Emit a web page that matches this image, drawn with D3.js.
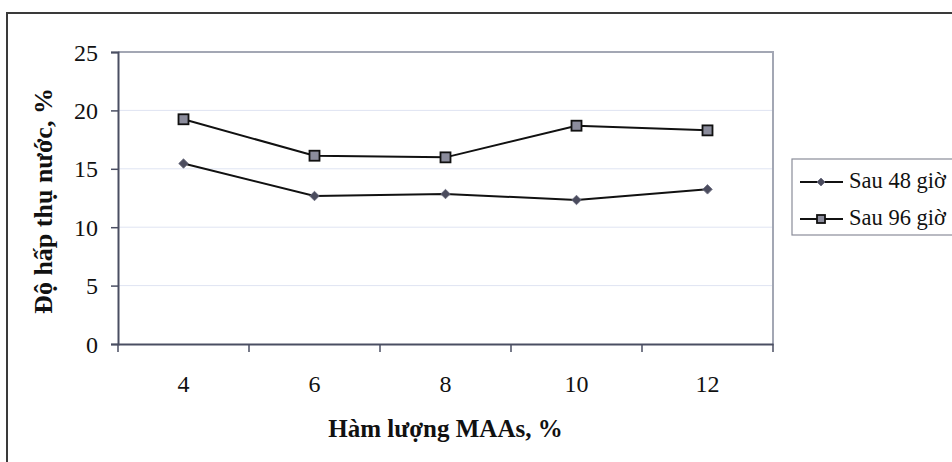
<!DOCTYPE html>
<html><head><meta charset="utf-8">
<script src="https://cdn.jsdelivr.net/npm/d3@7"></script>
<style>html,body{margin:0;padding:0;background:#fff;}svg{display:block;}</style>
</head><body>
<svg id="c" width="952" height="462"></svg>
<script>
const categories = ["4", "6", "8", "10", "12"];
const series48 = [15.45, 12.67, 12.84, 12.33, 13.24];
const series96 = [19.24, 16.12, 15.98, 18.69, 18.29];
const seriesNames = ["Sau 48 giờ", "Sau 96 giờ"];
const yTicks = [0, 5, 10, 15, 20, 25];
const xTitle = "Hàm lượng MAAs, %";
const yTitle = "Độ hấp thụ nước, %";

const FONT = '"Liberation Serif", "Times New Roman", Tinos, serif';
const svg = d3.select("#c");
const L = 118, R = 773, T = 52, B = 344;

// outer chart border
svg.append("rect").attr("x", 7).attr("y", 13).attr("width", 960).attr("height", 470)
  .attr("fill", "#fff").attr("stroke", "#3a3a3a").attr("stroke-width", 2);

const x = d3.scaleBand().domain(categories).range([L, R]).paddingInner(0).paddingOuter(0);
const y = d3.scaleLinear().domain([0, 25]).range([B, T]);

// gridlines
svg.append("g").selectAll("line").data(yTicks.filter(d => d > 0 && d < 25)).join("line")
  .attr("x1", L).attr("x2", R).attr("y1", d => y(d)).attr("y2", d => y(d))
  .attr("stroke", "#dfe4f2").attr("stroke-width", 1);

// plot frame top/right
svg.append("path").attr("d", `M${L},${T}H${R}V${B}`).attr("fill", "none")
  .attr("stroke", "#a3a7b4").attr("stroke-width", 2);

// y axis
const yAxis = svg.append("g").attr("transform", `translate(${L},0)`)
  .call(d3.axisLeft(y).tickValues(yTicks).tickSize(7).tickPadding(13).tickFormat(d3.format("d")));
yAxis.select(".domain").attr("stroke", "#4a4e62").attr("stroke-width", 2);
yAxis.selectAll(".tick line").attr("stroke", "#4a4e62").attr("stroke-width", 1.5);
yAxis.selectAll("text").style("font-family", FONT).attr("font-size", 24).attr("fill", "#111")
  .attr("dy", "0.34em");

// x axis with ticks at band boundaries
const xAxis = svg.append("g").attr("transform", `translate(0,${B})`)
  .call(d3.axisBottom(x).tickSize(0));
xAxis.select(".domain").attr("stroke", "#4a4e62").attr("stroke-width", 2);
xAxis.selectAll("text").style("font-family", FONT).attr("font-size", 24).attr("fill", "#111")
  .attr("y", 48).attr("dy", 0);
const bounds = categories.map(c => x(c)).concat([x(categories[categories.length-1]) + x.bandwidth()]);
xAxis.selectAll("line.b").data(bounds).join("line").attr("class", "b")
  .attr("x1", d => d).attr("x2", d => d).attr("y1", 0).attr("y2", 8)
  .attr("stroke", "#4a4e62").attr("stroke-width", 1.5);

const cx = c => x(c) + x.bandwidth() / 2;
const line = d3.line().x((d, i) => cx(categories[i])).y(d => y(d));

// lines
[series48, series96].forEach(s => {
  svg.append("path").datum(s).attr("d", line).attr("fill", "none")
    .attr("stroke", "#111").attr("stroke-width", 2);
});

function drawDiamond(g, px, py, sz) {
  g.append("path").attr("d", d3.symbol().type(d3.symbolSquare).size(sz)())
    .attr("transform", `translate(${px},${py}) rotate(45)`)
    .attr("fill", "#4b4c5e").attr("stroke", "#6b6d80").attr("stroke-width", 0.8);
}
function drawSquare(g, px, py, s) {
  g.append("rect").attr("x", px - s / 2).attr("y", py - s / 2).attr("width", s).attr("height", s)
    .attr("fill", "#8b8c9c").attr("stroke", "#111").attr("stroke-width", 1.8);
}
const mk = svg.append("g");
series48.forEach((v, i) => drawDiamond(mk, cx(categories[i]), y(v), 45));
series96.forEach((v, i) => drawSquare(mk, cx(categories[i]), y(v), 10));

// axis titles
svg.append("text").attr("x", (L + R) / 2).attr("y", 437).attr("text-anchor", "middle")
  .style("font-family", FONT).attr("font-size", 25).attr("font-weight", "bold").attr("fill", "#111")
  .text(xTitle);
svg.append("text").attr("transform", `translate(52,${(T + B) / 2 + 3}) rotate(-90)`)
  .attr("text-anchor", "middle").style("font-family", FONT).attr("font-size", 26)
  .attr("font-weight", "bold").attr("fill", "#111").text(yTitle);

// legend
const lg = svg.append("g");
lg.append("rect").attr("x", 792).attr("y", 159).attr("width", 200).attr("height", 76)
  .attr("fill", "#fff").attr("stroke", "#8a8d99").attr("stroke-width", 1.2);
const ly = [182, 219];
seriesNames.forEach((name, i) => {
  lg.append("line").attr("x1", 800).attr("x2", 843).attr("y1", ly[i]).attr("y2", ly[i])
    .attr("stroke", "#111").attr("stroke-width", 2);
  if (i === 0) drawDiamond(lg, 821, ly[i], 32); else drawSquare(lg, 821, ly[i], 8);
  lg.append("text").attr("x", 849).attr("y", ly[i] + 6)
    .style("font-family", FONT).attr("font-size", 22.5).attr("fill", "#111").text(name);
});
</script>
</body></html>
